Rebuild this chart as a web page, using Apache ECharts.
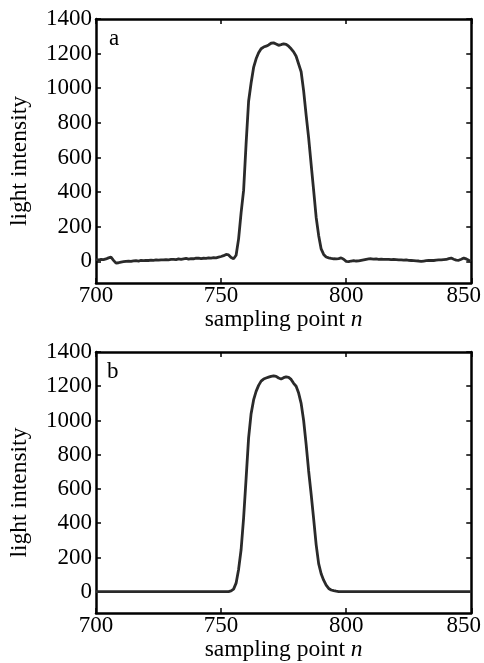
<!DOCTYPE html>
<html>
<head>
<meta charset="utf-8">
<script src="https://cdn.jsdelivr.net/npm/echarts@6/dist/echarts.min.js"></script>
<style>
html,body{margin:0;padding:0;background:#fff;}
#chart{width:484px;height:663px;}
</style>
</head>
<body>
<div id="chart"></div>
<script>
// sampling points n = 700 ... 850
const nStart = 700;
const nEnd = 850;
// panel a: measured light intensity
const intensityA = [
  10, 8, 12, 10, 14, 20, 24, 6, -10, -8,
  -4, -2, 0, 2, 0, 3, 4, 2, 5, 4,
  6, 5, 7, 6, 8, 7, 9, 8, 10, 9,
  11, 12, 10, 14, 12, 15, 17, 13, 16, 15,
  18, 19, 16, 18, 17, 20, 19, 21, 20, 24,
  28, 33, 40, 37, 22, 15, 35, 130, 280, 410,
  680, 925, 1030, 1120, 1170, 1205, 1228, 1238, 1243, 1250,
  1260, 1262, 1256, 1248, 1252, 1257, 1254, 1243, 1228, 1210,
  1185, 1140, 1095, 985, 845, 713, 560, 410, 255, 150,
  72, 40, 25, 20, 17, 15, 14, 16, 20, 12,
  0, -2, 2, 4, 2, 3, 6, 9, 12, 14,
  15, 13, 14, 12, 13, 12, 11, 12, 10, 11,
  10, 9, 8, 7, 8, 6, 5, 4, 3, 2,
  0, 2, 4, 5, 6, 5, 7, 8, 9, 10,
  11, 16, 19, 12, 7, 6, 12, 19, 14, 6,
  2
];
// panel b: processed light intensity
const intensityB = [
  0, 0, 0, 0, 0, 0, 0, 0, 0, 0,
  0, 0, 0, 0, 0, 0, 0, 0, 0, 0,
  0, 0, 0, 0, 0, 0, 0, 0, 0, 0,
  0, 0, 0, 0, 0, 0, 0, 0, 0, 0,
  0, 0, 0, 0, 0, 0, 0, 0, 0, 0,
  0, 0, 0, 1, 5, 15, 50, 130, 245, 430,
  660, 898, 1040, 1120, 1170, 1205, 1230, 1242, 1248, 1253,
  1258, 1261, 1258, 1248, 1242, 1250, 1255, 1252, 1240, 1217,
  1200, 1160, 1100, 1000, 860, 705, 570, 425, 275, 164,
  105, 67, 38, 19, 10, 6, 3, 1, 0, 0,
  0, 0, 0, 0, 0, 0, 0, 0, 0, 0,
  0, 0, 0, 0, 0, 0, 0, 0, 0, 0,
  0, 0, 0, 0, 0, 0, 0, 0, 0, 0,
  0, 0, 0, 0, 0, 0, 0, 0, 0, 0,
  0, 0, 0, 0, 0, 0, 0, 0, 0, 0,
  0
];
const yTicks = [0, 200, 400, 600, 800, 1000, 1200, 1400];
const xTicks = [700, 750, 800, 850];
const panelLabels = ['a', 'b'];
const xName = 'sampling point {it|n}';
const yName = 'light intensity';

function pairs(vals) {
  const out = [];
  for (let i = 0; i < vals.length; i++) out.push([nStart + i, vals[i]]);
  return out;
}

const FONT = 'Liberation Serif';
const grids = [
  {left: 96, right: 12, top: 19, bottom: 380},
  {left: 96, right: 12, top: 352, bottom: 48}
];

const xAxes = [], yAxes = [], series = [];
grids.forEach((g, gi) => {
  const axisLine = {show: true, onZero: false, lineStyle: {color: '#000', width: 2.5}};
  const tick = {show: true, inside: true, length: 5, lineStyle: {color: '#000', width: 1.5}};
  xAxes.push({
    type: 'value', gridIndex: gi, position: 'bottom', min: nStart, max: nEnd, interval: 50,
    axisLine, axisTick: Object.assign({}, tick, {customValues: xTicks}), splitLine: {show: false},
    axisLabel: {
      customValues: xTicks,
      margin: 1, color: '#000', fontFamily: FONT, fontSize: 23,
      formatter: v => v === 850 ? '{r|' + v + '}' : String(v),
      rich: {r: {fontFamily: FONT, fontSize: 23, color: '#000', padding: [0, 15, 0, 0]}}
    },
    name: xName, nameLocation: 'middle', nameGap: 24,
    nameTextStyle: {
      color: '#000', fontFamily: FONT, fontSize: 23.5,
      rich: {it: {fontStyle: 'italic', fontFamily: FONT, fontSize: 23.5, color: '#000'}}
    }
  });
  xAxes.push({
    type: 'value', gridIndex: gi, position: 'top', min: nStart, max: nEnd, interval: 50,
    axisLine, axisTick: Object.assign({}, tick, {customValues: xTicks}), splitLine: {show: false}, axisLabel: {show: false}
  });
  yAxes.push({
    type: 'value', gridIndex: gi, position: 'left', min: -125, max: 1400,
    axisLine, axisTick: Object.assign({}, tick, {customValues: yTicks}), splitLine: {show: false},
    axisLabel: {customValues: yTicks, margin: 4, color: '#000', fontFamily: FONT, fontSize: 23,
      formatter: v => String(v)},
    name: yName, nameLocation: 'middle', nameGap: 64,
    nameTextStyle: {color: '#000', fontFamily: FONT, fontSize: 23.5, padding: [0, 20, 0, 0]}
  });
  yAxes.push({
    type: 'value', gridIndex: gi, position: 'right', min: -125, max: 1400,
    axisLine, axisTick: Object.assign({}, tick, {customValues: yTicks}), splitLine: {show: false},
    axisLabel: {show: false}
  });
  series.push({
    type: 'line', xAxisIndex: gi * 2, yAxisIndex: gi * 2,
    data: pairs(gi === 0 ? intensityA : intensityB),
    showSymbol: false, symbol: 'none', smooth: false,
    lineStyle: {color: '#2a2a2a', width: 2.8},
    clip: true
  });
});

const chart = echarts.init(document.getElementById('chart'), null, {renderer: 'canvas'});
chart.setOption({
  animation: false,
  backgroundColor: '#fff',
  grid: grids,
  xAxis: xAxes,
  yAxis: yAxes,
  series: series,
  graphic: [
    {type: 'text', left: 109, top: 27, style: {text: panelLabels[0], font: '23px "Liberation Serif"', fill: '#000'}},
    {type: 'text', left: 107, top: 360, style: {text: panelLabels[1], font: '23px "Liberation Serif"', fill: '#000'}}
  ]
});
</script>
</body>
</html>
